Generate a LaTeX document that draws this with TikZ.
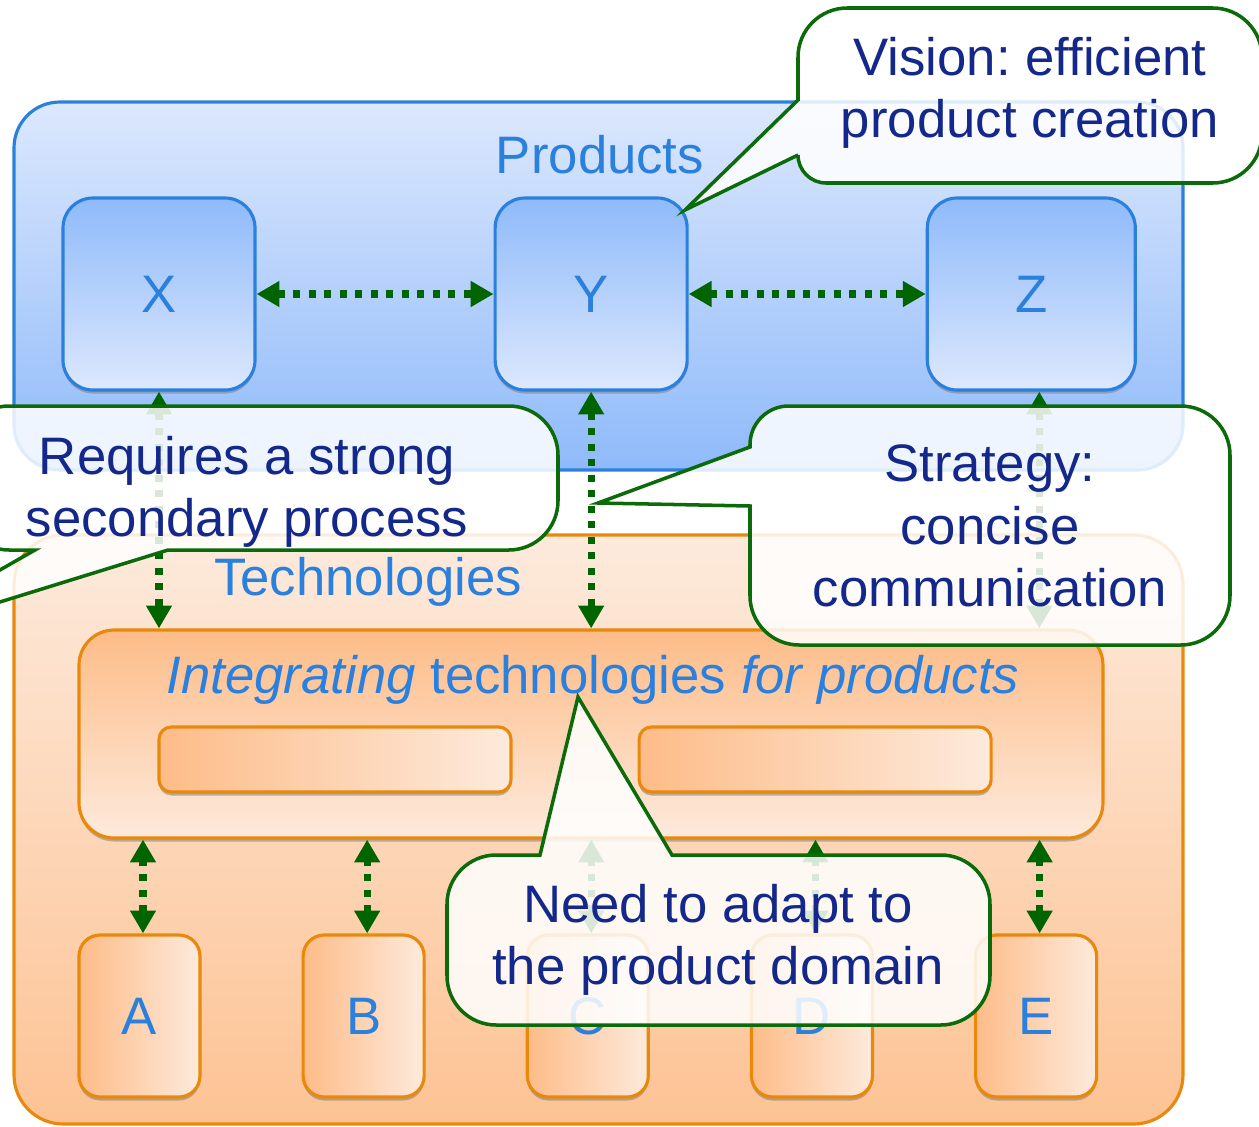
\documentclass[tikz,border=0pt]{standalone}
\usepackage{fontspec}
\setmainfont{Liberation Sans}
\usepackage{tikz}
\usetikzlibrary{arrows.meta}
\usetikzlibrary{positioning}
\usetikzlibrary{shadows}

\definecolor{prodblue}{HTML}{2A80DC}
\definecolor{prodlight}{HTML}{DCE8FD}
\definecolor{proddark}{HTML}{8FBAFA}
\definecolor{techorange}{HTML}{E8890C}
\definecolor{techlight}{HTML}{FDEADC}
\definecolor{techdark}{HTML}{FDBC88}
\definecolor{linkgreen}{HTML}{006400}
\definecolor{notegreen}{HTML}{0B6B0B}
\definecolor{notenavy}{HTML}{13288A}

\begin{document}
\frenchspacing
\begin{tikzpicture}
  [x=0.1mm, y=-0.1mm,
  every node/.style={font=\fontsize{15}{17.8}\selectfont},
  boxshadow/.style={drop shadow={shadow xshift=0pt, shadow yshift=-1pt, opacity=0.55}},
  prodpanel/.style={draw=prodblue, line width=0.9pt, rounded corners=13pt,
    top color=prodlight, bottom color=proddark, inner sep=0pt},
  prodbox/.style={draw=prodblue, line width=0.9pt, rounded corners=8.5pt,
    top color=proddark, bottom color=prodlight, text=prodblue,
    minimum height=19.2mm, boxshadow},
  techpanel/.style={draw=techorange, line width=0.9pt, rounded corners=14pt,
    top color=techlight, bottom color=techdark!90!white, inner sep=0pt},
  integbox/.style={draw=techorange, line width=0.9pt, rounded corners=10pt,
    top color=techdark, bottom color=techlight, inner sep=0pt, boxshadow},
  bar/.style={draw=techorange, line width=0.9pt, rounded corners=3.5pt,
    left color=techdark, right color=techlight,
    minimum width=35.2mm, minimum height=6.5mm, boxshadow},
  techbox/.style={draw=techorange, line width=0.9pt, rounded corners=6pt,
    left color=techdark, right color=techlight, text=prodblue,
    minimum width=12.1mm, minimum height=16.2mm, boxshadow},
  link/.style={draw=linkgreen, line width=2pt, dash pattern=on 2pt off 2.4pt,
    {Triangle[length=6.5pt,width=7pt]}-{Triangle[length=6.5pt,width=7pt]}},
  callout/.style={draw=notegreen, line width=1pt, fill=white, fill opacity=0.85},
  note/.style={text=notenavy, align=center}]
\useasboundingbox (0,0) rectangle (1259,1127);

\node[prodpanel, minimum width=116.9mm, minimum height=36.8mm] (products) at (598.5,286) {};
\node[text=prodblue] (productslabel) at (600,155) {Products};
\node[prodbox, minimum width=19.2mm] (x) at (159,294) {X};
\node[prodbox, minimum width=19.2mm] (y) [right=23.7mm of x] {Y};
\node[prodbox, minimum width=20.8mm] (z) [right=23.7mm of y] {Z};

\node[techpanel, minimum width=116.9mm, minimum height=58.9mm] (tech) at (598.5,829.5) {};
\node[text=prodblue] (techlabel) at (368,582) {Technologies};
\node[integbox, minimum width=102.4mm, minimum height=20.8mm] (integ) at (591,734) {};
\node[text=prodblue] (integlabel) at (593,680) {\textit{Integrating} technologies \textit{for products}};
\node[bar] (barl) at (335,759.5) {};
\node[bar] (barr) [right=12.5mm of barl] {};

\node[techbox] (a) at (139.5,1016) {A};
\node[techbox] (b) [right=10mm of a] {B};
\node[techbox] (c) [right=10mm of b] {C};
\node[techbox] (d) [right=10mm of c] {D};
\node[techbox] (e) [right=10mm of d] {E};

\draw[link] (x) -- (y);
\draw[link] (y) -- (z);
\draw[link] (x.south) -- (x.south |- integ.north);
\draw[link] (y.south) -- (y.south |- integ.north);
\draw[link] ([xshift=0.8mm]z.south) -- ([xshift=0.8mm]z.south |- integ.north);
\foreach \n in {a,b,c,d,e}
  \draw[link] ([xshift=0.35mm]\n.north) -- ([xshift=0.35mm]\n.north |- integ.south);

\draw[callout] (798,100) -- (685,210) -- (798,155) [rounded corners=8pt] -- (798,183)
  [rounded corners=14pt] -- (1262,183) -- (1262,8) -- (798,8) [sharp corners] -- cycle;
\node[note] (vision) at (1030,93) {Vision: efficient\\product creation};

\draw[callout] (35,550) -- (-123,640) -- (168,550) [rounded corners=14pt] -- (558,550)
  -- (558,406) -- (-40,406) -- (-40,550) [sharp corners] -- cycle;
\node[note] (requires) at (247,492) {Requires a strong\\secondary process};

\draw[callout] (750,447) -- (598,503) -- (750,506) [rounded corners=14pt] -- (750,645)
  -- (1230,645) -- (1230,406) [rounded corners=11pt] -- (750,406) [sharp corners] -- cycle;
\node[note] (strategy) at (990,526) {Strategy:\\concise\\communication};

\draw[callout] (540,855) -- (578,697) -- (672,855) [rounded corners=14pt] -- (990,855)
  -- (990,1025) -- (447,1025) -- (447,855) [sharp corners] -- cycle;
\node[note] (adapt) at (718,940) {Need to adapt to\\the product domain};
\end{tikzpicture}
\end{document}
